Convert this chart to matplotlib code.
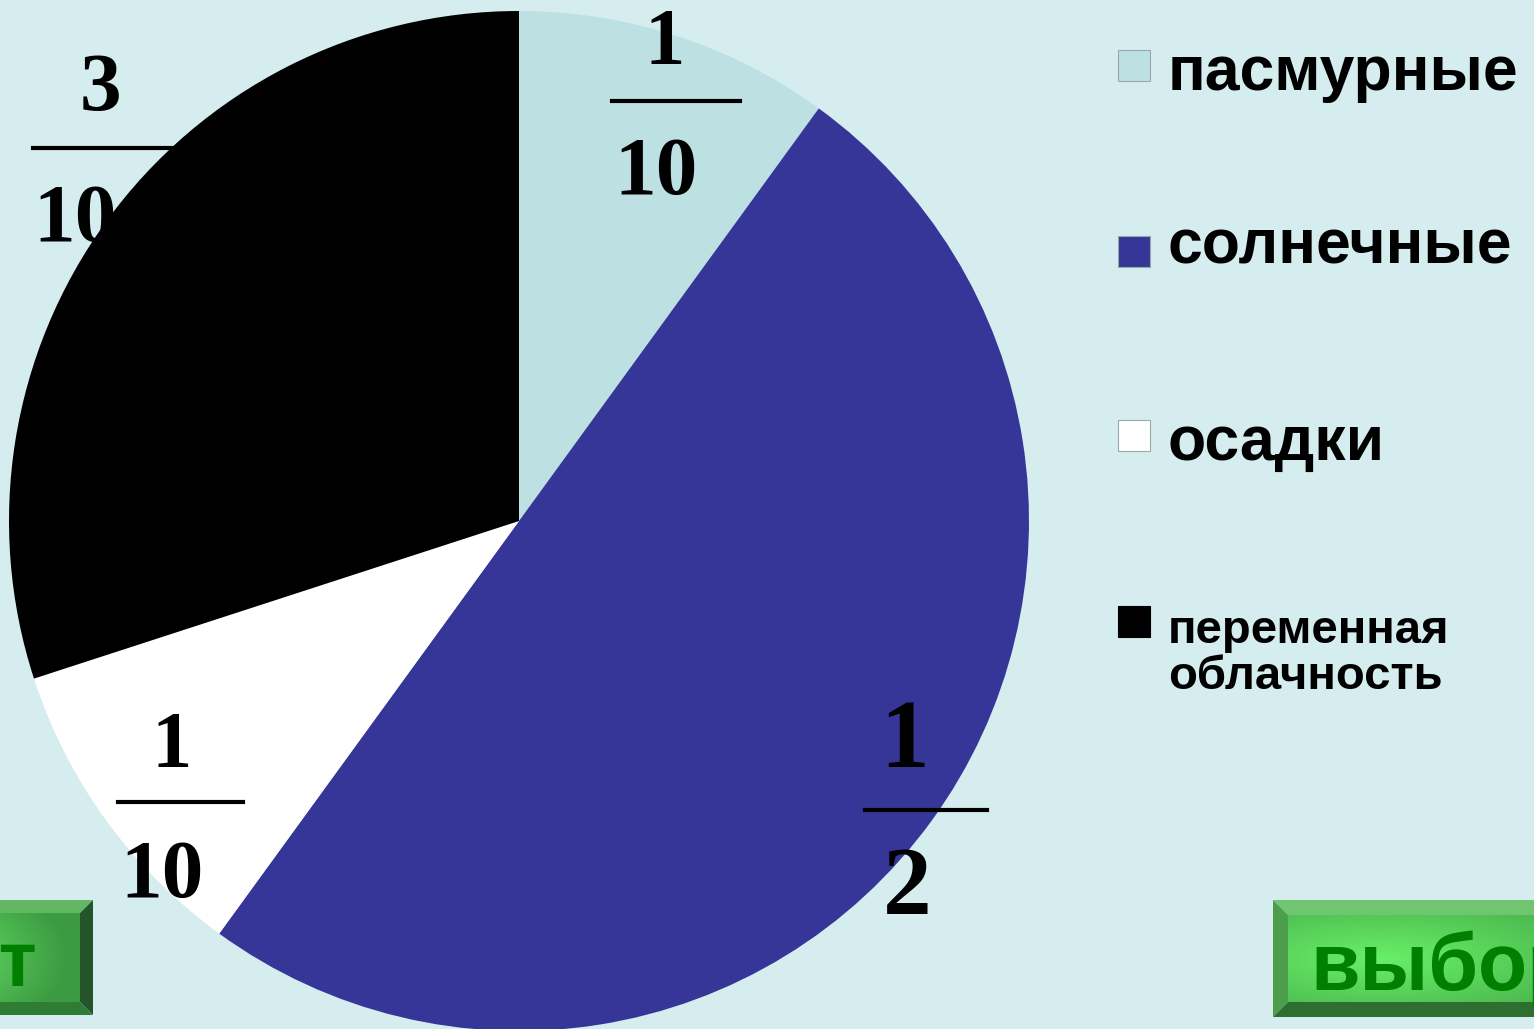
import matplotlib
matplotlib.use("Agg")
import matplotlib.pyplot as plt
import numpy as np
from matplotlib.patches import Rectangle, Polygon
from matplotlib.lines import Line2D

# ---- data ----
categories = ["пасмурные", "солнечные", "осадки", "переменная\nоблачность"]
shares = [0.1, 0.5, 0.1, 0.3]
frac_num = ["1", "1", "1", "3"]
frac_den = ["10", "2", "10", "10"]
colors = ["#bde0e3", "#363698", "#ffffff", "#000000"]
buttons = ["ответ", "выбор"]

W, H = 1534, 1029
BG = "#d5edef"
fig = plt.figure(figsize=(W / 100, H / 100), dpi=100, facecolor=BG)

# ---- pie ----
cx, cy, r = 519, 521, 510
axp = fig.add_axes([(cx - r) / W, (H - cy - r) / H, 2 * r / W, 2 * r / H])
axp.pie(shares, colors=colors, startangle=90, counterclock=False,
        radius=1, wedgeprops=dict(linewidth=0))
axp.set_xlim(-1, 1)
axp.set_ylim(-1, 1)
axp.set_aspect("equal")
axp.axis("off")

# ---- overlay in pixel coordinates ----
ax = fig.add_axes([0, 0, 1, 1], facecolor="none")
ax.set_xlim(0, W)
ax.set_ylim(H, 0)
ax.axis("off")

serif = ["Liberation Serif", "DejaVu Serif"]
sans = ["Liberation Sans", "DejaVu Sans"]

# fraction labels: (num x, num baseline, num size, bar x0, x1, y, den x, den baseline, den size)
frac_pos = [
    (665, 64, 58, 612, 740, 101, 656, 194, 60),   # пасмурные
    (905, 767, 70, 865, 987, 810, 907, 914, 70),  # солнечные
    (172, 767, 58, 118, 243, 802, 162, 897, 60),  # осадки
    (100, 110, 60, 33, 175, 148, 75, 241, 60),    # переменная
]
for i, (nx, ny, ns, bx0, bx1, by, dx, dy, ds) in enumerate(frac_pos):
    ax.text(nx, ny, frac_num[i], family=serif, fontsize=ns, fontweight="bold",
            ha="center", va="baseline", color="black", zorder=1)
    ax.text(dx, dy, frac_den[i], family=serif, fontsize=ds, fontweight="bold",
            ha="center", va="baseline", color="black", zorder=1)
    ax.add_line(Line2D([bx0, bx1], [by, by], color="black", lw=3, zorder=1))

# ---- legend ----
leg_sq = [(1118, 50), (1118, 236), (1118, 420), (1118, 606)]
leg_txt = [(1168, 90, 45, 1.2), (1168, 263, 45, 1.2), (1168, 460, 45, 1.2),
           (1168, 689, 34, 1.06)]
for i, cat in enumerate(categories):
    sx, sy = leg_sq[i]
    ec = "#9aa8a8" if colors[i] != "#000000" else "#000000"
    ax.add_patch(Rectangle((sx, sy), 32, 31, facecolor=colors[i],
                           edgecolor=ec, lw=0.8, zorder=2))
    tx, ty, ts, ls = leg_txt[i]
    ax.text(tx, ty, cat, family=sans, fontsize=ts, fontweight="bold",
            ha="left", va="baseline", color="black", linespacing=ls,
            zorder=2)


# ---- buttons ----
def face_gradient(x0, y0, x1, y1, cxr, light, dark):
    nx, ny = 200, 60
    xs = np.linspace(0, 1, nx)
    ys = np.linspace(0, 1, ny)
    X, Y = np.meshgrid(xs, ys)
    d = np.sqrt(((X - cxr) / 0.9) ** 2 + ((Y - 0.5) / 0.9) ** 2)
    d = np.clip(d, 0, 1)[..., None]
    img = np.array(light)[None, None, :] * (1 - d) + np.array(dark)[None, None, :] * d
    ax.imshow(img, extent=[x0, x1, y1, y0], origin="upper",
              aspect="auto", zorder=3, interpolation="bilinear")


def hexrgb(h):
    return [int(h[i:i + 2], 16) / 255 for i in (1, 3, 5)]


# left button (only right part visible)
X0, Y0, X1, Y1 = -40, 900, 93, 1015
x0, y0, x1, y1 = -40, 913, 80, 1002
ax.add_patch(Polygon([(X0, Y0), (X1, Y0), (x1, y0), (x0, y0)], closed=True,
                     facecolor="#62b862", lw=0, zorder=3))
ax.add_patch(Polygon([(X1, Y0), (X1, Y1), (x1, y1), (x1, y0)], closed=True,
                     facecolor="#24552a", lw=0, zorder=3))
ax.add_patch(Polygon([(X0, Y1), (X1, Y1), (x1, y1), (x0, y1)], closed=True,
                     facecolor="#2f7c35", lw=0, zorder=3))
face_gradient(x0, y0, x1, y1, 0.0, hexrgb("#5fd95f"), hexrgb("#3c9a42"))
ax.text(37, 986, buttons[0], family=sans, fontsize=56, fontweight="bold",
        ha="right", va="baseline", color="#007f00", zorder=4)

# right button (only left part visible)
X0, Y0, X1, Y1 = 1273, 900, 1600, 1017
x0, y0, x1, y1 = 1288, 915, 1600, 1002
ax.add_patch(Polygon([(X0, Y0), (X1, Y0), (x1, y0), (x0, y0)], closed=True,
                     facecolor="#70c670", lw=0, zorder=3))
ax.add_patch(Polygon([(X0, Y0), (X0, Y1), (x0, y1), (x0, y0)], closed=True,
                     facecolor="#4c9e4c", lw=0, zorder=3))
ax.add_patch(Polygon([(X0, Y1), (X1, Y1), (x1, y1), (x0, y1)], closed=True,
                     facecolor="#2f6e31", lw=0, zorder=3))
face_gradient(x0, y0, x1, y1, 0.3, hexrgb("#68f068"), hexrgb("#45aa48"))
ax.text(1310, 990, buttons[1], family=sans, fontsize=58, fontweight="bold",
        ha="left", va="baseline", color="#007f00", zorder=4)

ax.set_xlim(0, W)
ax.set_ylim(H, 0)

fig.savefig("out.png", dpi=100, facecolor=BG)
